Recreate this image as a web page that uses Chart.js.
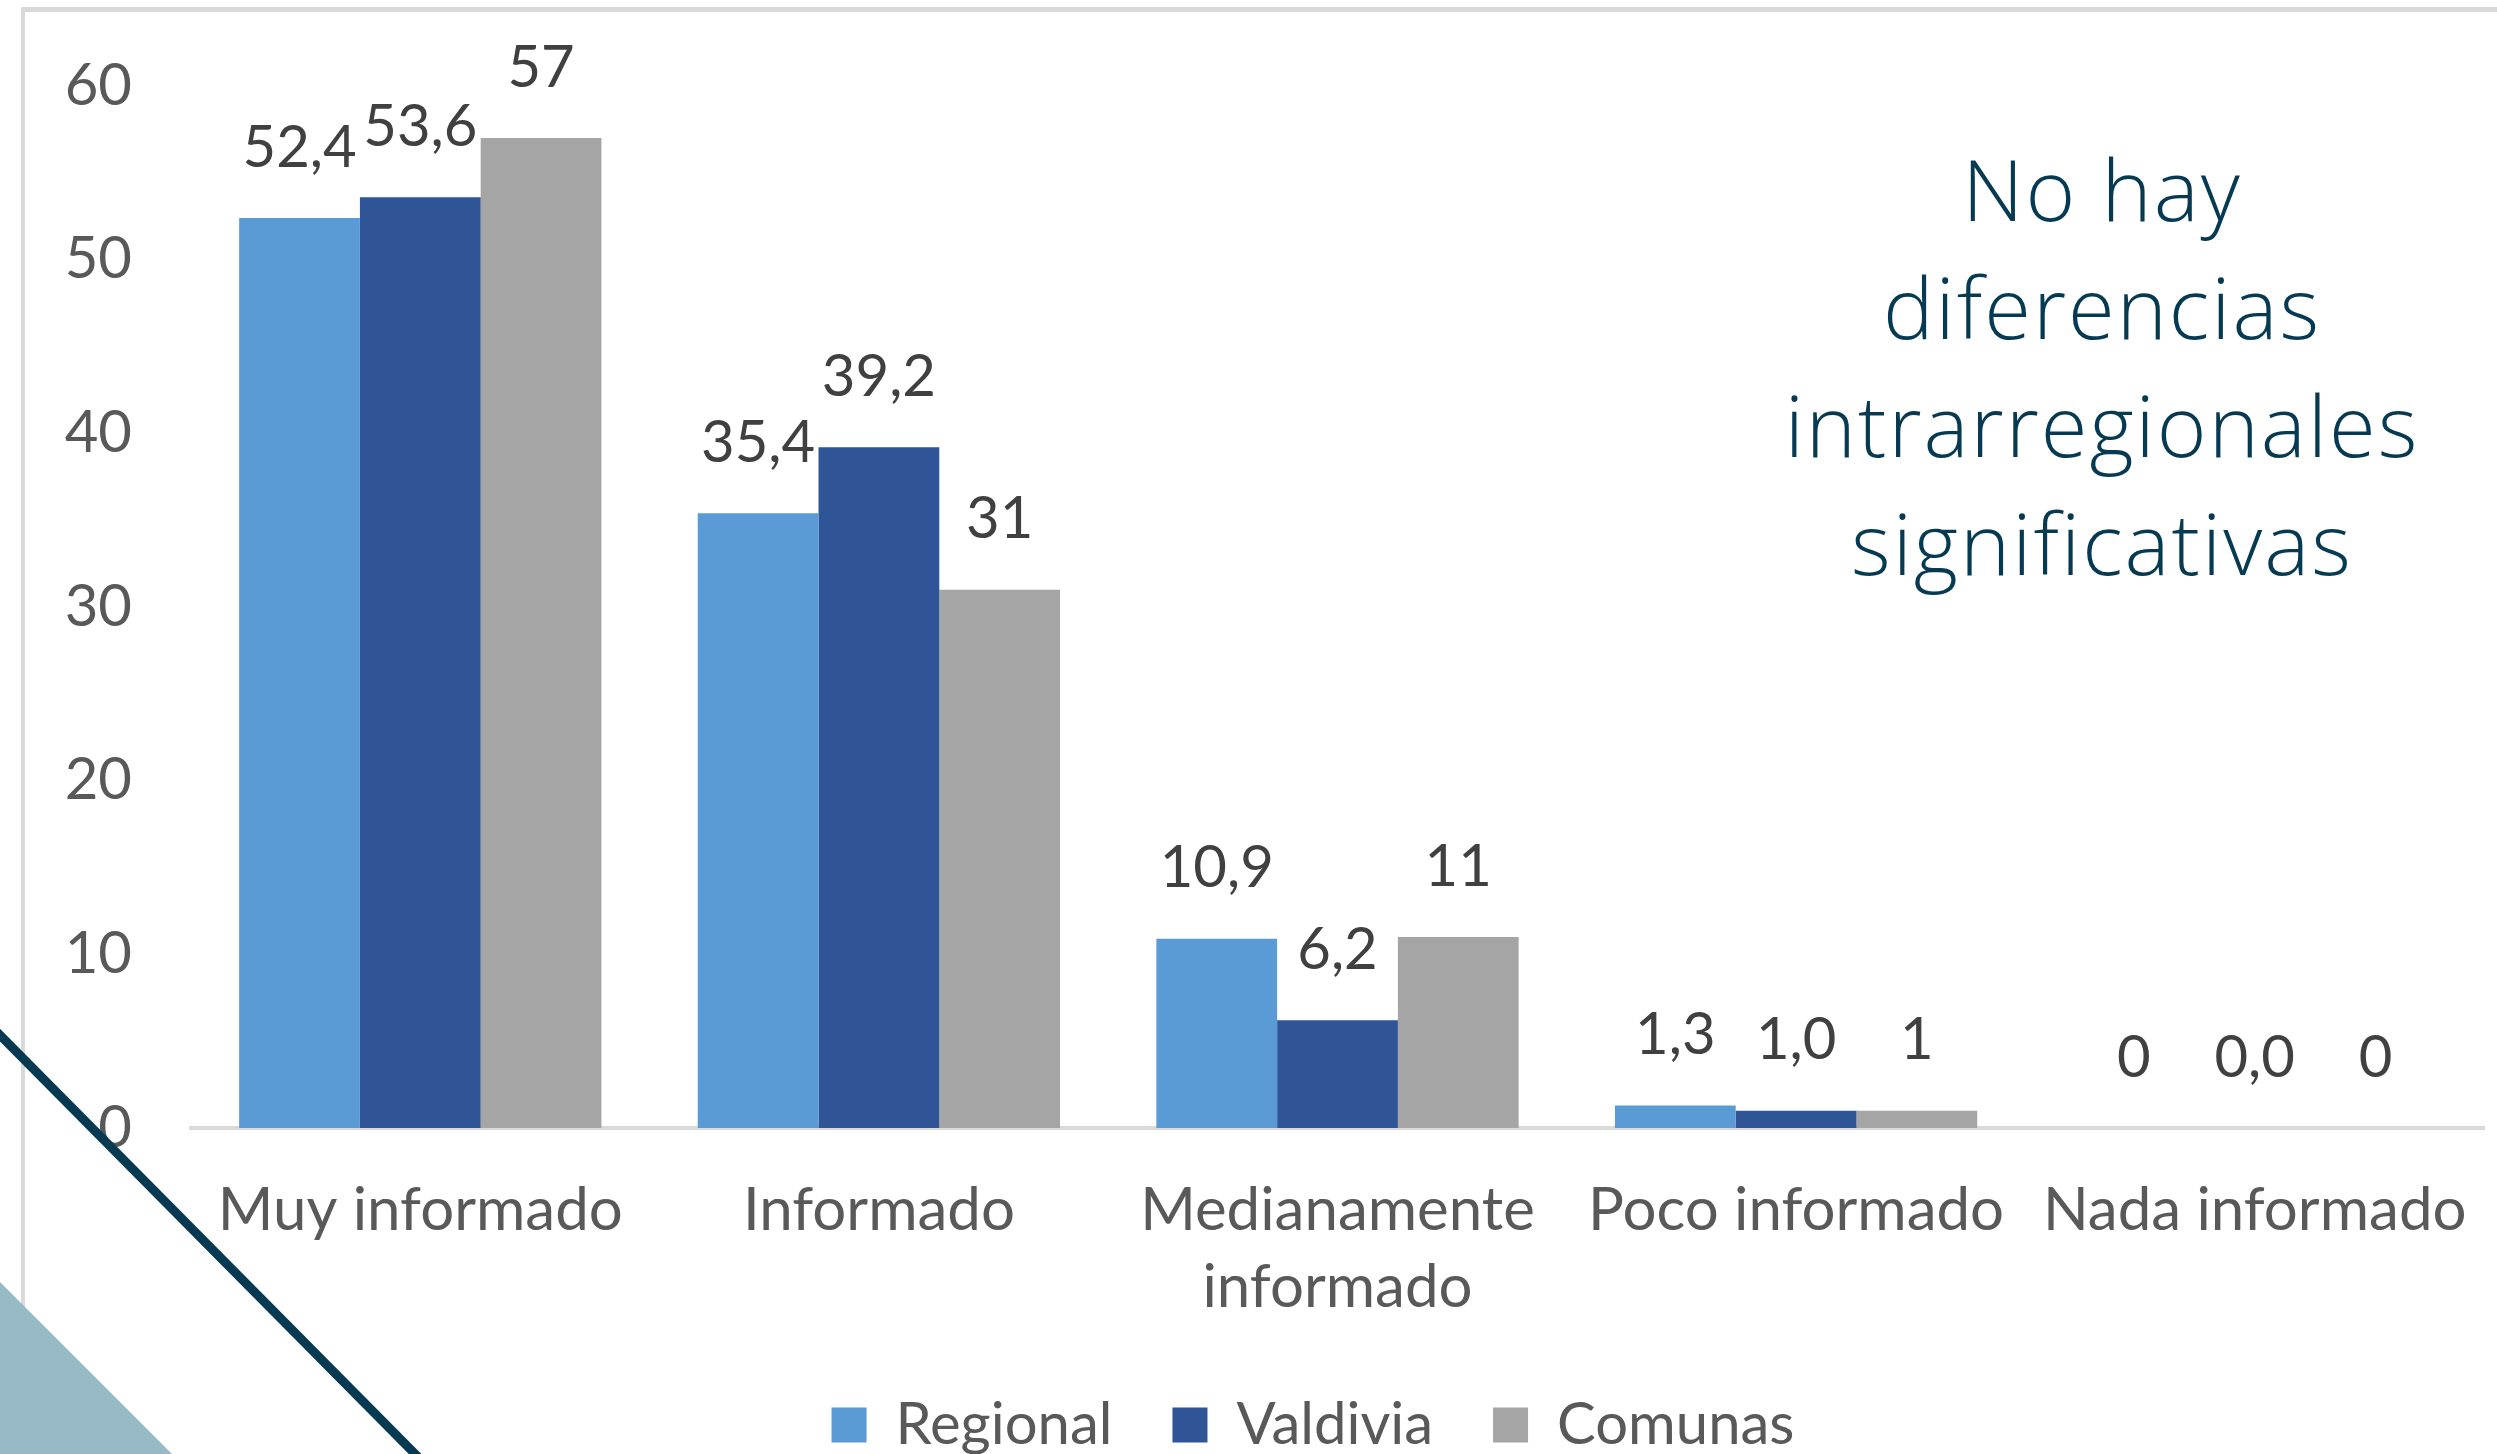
<!DOCTYPE html>
<html>
<head>
<meta charset="utf-8">
<script src="https://cdn.jsdelivr.net/npm/chart.js@4.4.0/dist/chart.umd.min.js"></script>
<style>
  html, body { margin: 0; padding: 0; background: #fff; }
  #wrap { position: relative; width: 2497px; height: 1454px; overflow: hidden; }
  #note {
    position: absolute; left: 1702px; top: 129px; width: 800px;
    text-align: center; font-family: "Open Sans"; font-weight: 300; font-size: 85px;
    letter-spacing: 2px; line-height: 118px; color: #063a52;
  }
</style>
</head>
<body>
<div id="wrap">
  <canvas id="infoChart" width="2497" height="1454"></canvas>
  <div id="note">No hay<br>diferencias<br>intrarregionales<br>significativas</div>
</div>
<script>
// categorias y series
const categories = ["Muy informado", "Informado", ["Medianamente", "informado"], "Poco informado", "Nada informado"];
const regional = [52.4, 35.4, 10.9, 1.3, 0];
const valdivia = [53.6, 39.2, 6.2, 1.0, 0.0];
const comunas = [57, 31, 11, 1, 0];
const yTicks = [0, 10, 20, 30, 40, 50, 60];

const textGray = "#595959";

// como Excel muestra cada serie
function fmtRegional(v) { return v === 0 ? "0" : v.toFixed(1).replace(".", ","); }
function fmtValdivia(v) { return v.toFixed(1).replace(".", ","); }
function fmtComunas(v) { return v.toFixed(0); }

// marco gris y adornos de la diapositiva
const decor = {
	id: "decor",
	afterLayout(chart) {
		// la leyenda de Excel queda centrada bajo el area de trazado, no en el lienzo
		chart.legend.left += 71;
		chart.legend.right += 71;
	},
	beforeDraw(chart) {
		const ctx = chart.ctx;
		ctx.save();
		ctx.fillStyle = "#d9d9d9";
		ctx.fillRect(21, 7, chart.width - 21, 5);
		ctx.fillRect(21, 7, 4, chart.height - 7);
		ctx.restore();
	},
	afterDraw(chart) {
		const ctx = chart.ctx;
		const h = chart.height;
		ctx.save();
		ctx.fillStyle = "#97bac6";
		ctx.beginPath();
		ctx.moveTo(0, 1282);
		ctx.lineTo(172, h);
		ctx.lineTo(0, h);
		ctx.closePath();
		ctx.fill();
		ctx.strokeStyle = "#063a52";
		ctx.lineWidth = 9;
		ctx.beginPath();
		ctx.moveTo(-10, 1025);
		ctx.lineTo(425, h + 10);
		ctx.stroke();
		ctx.restore();
	}
};

// etiquetas de datos sobre cada barra
const barLabels = {
	id: "barLabels",
	afterDatasetsDraw(chart) {
		const ctx = chart.ctx;
		ctx.save();
		ctx.font = "58px Lato";
		ctx.fillStyle = "#404040";
		ctx.textAlign = "center";
		ctx.textBaseline = "middle";
		chart.data.datasets.forEach((ds, i) => {
			chart.getDatasetMeta(i).data.forEach((bar, j) => {
				ctx.fillText(ds.fmt(ds.data[j]), bar.x, bar.y - 70);
			});
		});
		ctx.restore();
	}
};

const infoChart = new Chart(document.getElementById("infoChart").getContext("2d"), {
	type: "bar",
	data: {
		labels: categories,
		datasets: [
			{ label: "Regional", data: regional, backgroundColor: "#5b9bd5", fmt: fmtRegional },
			{ label: "Valdivia", data: valdivia, backgroundColor: "#2f5597", fmt: fmtValdivia },
			{ label: "Comunas", data: comunas, backgroundColor: "#a5a5a5", fmt: fmtComunas },
		],
	},
	options: {
		responsive: false,
		animation: false,
		layout: { padding: { left: 0, right: 13, top: 86, bottom: -10 } },
		datasets: { bar: { categoryPercentage: 0.79, barPercentage: 1 } },
		plugins: {
			tooltip: { enabled: false },
			legend: {
				position: "bottom",
				labels: {
					font: { family: "Lato", size: 58 },
					color: textGray,
					boxWidth: 35,
					boxHeight: 35,
					padding: 60,
				},
			},
		},
		scales: {
			x: {
				grid: { display: false, drawTicks: false },
				border: { color: "#d9d9d9", width: 4 },
				ticks: {
					font: { family: "Lato", size: 60, lineHeight: 1.28 },
					color: textGray,
					padding: 44,
					maxRotation: 0,
					autoSkip: false,
				},
				afterFit(scale) {
					scale.height = 208;
					scale.paddingLeft = 0;
					scale.paddingRight = 0;
				},
			},
			y: {
				min: yTicks[0],
				max: yTicks[yTicks.length - 1],
				grid: { display: false, drawTicks: false },
				border: { display: false },
				ticks: {
					stepSize: 10,
					font: { family: "Lato", size: 58 },
					color: textGray,
					padding: 59,
					callback: (v) => (yTicks.includes(v) ? String(v) : ""),
				},
				afterFit(scale) {
					scale.width = 191;
					scale.paddingTop = 0;
					scale.paddingBottom = 0;
				},
			},
		},
	},
	plugins: [decor, barLabels],
});
</script>
</body>
</html>
